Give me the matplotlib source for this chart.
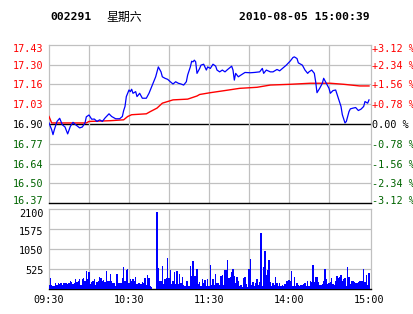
import numpy as np
import matplotlib
matplotlib.use("Agg")
from matplotlib import pyplot as plt
from matplotlib.transforms import ScaledTranslation

# header
code = "002291"
weekday = "星期六"
stamp = "2010-08-05 15:00:39"
pre_close = 16.90

# minute index (0 = 09:30, 120 = 11:30/13:00, 240 = 15:00) and price
px_min = [0, 2, 3, 4, 6, 8, 10, 12, 14, 16, 18, 20, 23, 25, 27, 28, 30, 32, 34, 36,
          38, 40, 42, 45, 47, 50, 53, 55, 56, 57, 58, 60, 61, 62, 63, 65, 66, 68, 70, 73,
          75, 77, 80, 82, 84, 85, 87, 89, 91, 93, 95, 97, 99, 101, 103, 104, 106, 107, 108, 109,
          110, 111, 113, 114, 116, 118, 119, 121, 123, 125, 126, 128, 130, 132, 134, 137, 138, 139, 140, 142,
          144, 147, 151, 154, 158, 160, 161, 163, 166, 168, 171, 173, 176, 178, 181, 183, 184, 186, 187, 190,
          192, 194, 195, 197, 199, 200, 201, 203, 205, 206, 208, 210, 211, 213, 215, 217, 219, 220, 222, 223,
          225, 226, 228, 230, 232, 234, 236, 237, 239, 240]
price = [16.907, 16.862, 16.829, 16.862, 16.917, 16.938, 16.895, 16.880, 16.834, 16.884,
         16.911, 16.895, 16.874, 16.880, 16.907, 16.948, 16.960, 16.932, 16.933, 16.917,
         16.928, 16.917, 16.940, 16.968, 16.950, 16.935, 16.935, 16.950, 16.990, 17.017,
         17.083, 17.127, 17.116, 17.132, 17.105, 17.116, 17.083, 17.105, 17.072, 17.072,
         17.105, 17.149, 17.215, 17.281, 17.248, 17.215, 17.205, 17.198, 17.182, 17.167,
         17.182, 17.172, 17.167, 17.160, 17.182, 17.227, 17.281, 17.319, 17.315, 17.326,
         17.315, 17.238, 17.271, 17.293, 17.299, 17.260, 17.281, 17.271, 17.299, 17.286,
         17.260, 17.248, 17.260, 17.248, 17.264, 17.286, 17.260, 17.193, 17.238, 17.215,
         17.227, 17.244, 17.242, 17.244, 17.248, 17.271, 17.238, 17.260, 17.248, 17.248,
         17.264, 17.255, 17.278, 17.293, 17.321, 17.344, 17.348, 17.337, 17.308, 17.293,
         17.260, 17.238, 17.248, 17.260, 17.238, 17.182, 17.109, 17.138, 17.172, 17.205,
         17.172, 17.138, 17.105, 17.123, 17.127, 17.072, 17.017, 16.962, 16.907, 16.917,
         16.983, 17.001, 17.006, 17.010, 16.990, 16.999, 17.017, 17.050, 17.039, 17.061]

# average price line
avg_min = [0, 2, 28, 30, 46, 56, 59, 62, 73, 76, 81, 85, 89, 93, 104, 106, 111, 113,
           121, 131, 143, 156, 166, 181, 196, 211, 221, 233, 240]
avg_price = [16.950, 16.907, 16.907, 16.917, 16.922, 16.928, 16.950, 16.962, 16.968, 16.983,
             17.006, 17.039, 17.050, 17.061, 17.066, 17.072, 17.087, 17.097, 17.109, 17.122,
             17.138, 17.145, 17.160, 17.165, 17.172, 17.172, 17.165, 17.154, 17.154]

# volume per minute, 241 bars
volume = [106, 283, 80, 62, 62, 159, 88, 159, 124, 141, 80, 159, 159, 141, 124, 159, 212, 177, 124, 159,
          265, 177, 194, 247, 80, 265, 283, 212, 459, 247, 442, 124, 177, 212, 247, 80, 177, 212, 300, 283,
          194, 230, 177, 459, 194, 212, 389, 194, 159, 159, 71, 389, 141, 141, 141, 283, 565, 194, 495, 512,
          141,
          247, 212, 247, 212, 318, 124, 141, 159, 124, 177, 159, 283, 106, 353, 283, 71, 30, 0, 0, 0,
          2032, 548, 194, 194, 601, 124, 265, 283, 813, 283, 495, 124, 212, 442, 124, 459, 124, 389, 141, 300,
          106, 71, 212, 194, 71, 601, 336, 724, 336, 336, 512, 124, 177, 71, 265, 159, 230, 71, 265, 71,
          618, 88, 247, 88, 389, 141, 141, 88, 336, 353, 88, 495, 495, 760, 283, 318, 442, 512, 336, 159,
          300, 194, 71, 88, 53, 283, 318, 124, 53, 512, 777, 88, 177, 71, 159, 247, 88, 177, 1466, 71,
          565, 989, 353, 495, 760, 177, 71, 141, 88, 300, 159, 71, 141, 71, 106, 71, 124, 212, 212, 230,
          212, 459, 62, 300, 71, 141, 106, 71, 88, 88, 124, 141, 71, 194, 71, 212, 177, 618, 177, 300,
          300, 177, 106, 106, 124, 194, 512, 247, 124, 141, 177, 283, 124, 106, 212, 336, 283, 318, 353, 212,
          247, 283, 71, 565, 318, 124, 194, 212, 177, 141, 159, 177, 194, 212, 194, 512, 177, 353, 106, 424]

left_labels = ["17.43", "17.30", "17.16", "17.03", "16.90", "16.77", "16.64", "16.50", "16.37"]
right_labels = ["+3.12 %", "+2.34 %", "+1.56 %", "+0.78 %", "0.00 %",
                "-0.78 %", "-1.56 %", "-2.34 %", "-3.12 %"]
vol_ticks = [525, 1050, 1575, 2100]
time_ticks = [0, 60, 120, 180, 240]
time_labels = ["09:30", "10:30", "11:30", "14:00", "15:00"]

RED = "#ff0000"
GREEN = "#006400"
GRID = "#c0c0c0"
MONO = "DejaVu Sans Mono"

steps = np.arange(4, -5, -1)
levels = pre_close * (1 + steps * 0.0078)
lab_col = [RED if s > 0 else ("black" if s == 0 else GREEN) for s in steps]

fig = plt.figure(figsize=(4.14, 3.14), dpi=100)
fig.patch.set_facecolor("white")

ax = fig.add_axes([49 / 414, 111 / 314, 322 / 414, 158 / 314])
vx = fig.add_axes([49 / 414, 25.5 / 314, 322 / 414, 79.2 / 314])


def nudge(label, dy_px):
    label.set_transform(label.get_transform() + ScaledTranslation(0, dy_px / 100, fig.dpi_scale_trans))


xmax = 241.5
ax.set_xlim(0, xmax)
ax.set_ylim(levels[-1], levels[0])
for lv, s in zip(levels[1:-1], steps[1:-1]):
    ax.axhline(lv, color="black" if s == 0 else GRID, lw=1.0 if s == 0 else 0.9, zorder=1)
for t in range(30, 240, 30):
    ax.axvline(t, color=GRID, lw=0.9, zorder=1)

ax.plot(avg_min, avg_price, color=RED, lw=1.0, zorder=3)
ax.plot(px_min, price, color="#0000ff", lw=0.9, zorder=4)

for sp in ["top", "left", "right"]:
    ax.spines[sp].set_color(GRID)
    ax.spines[sp].set_linewidth(0.9)
ax.spines["bottom"].set_color("black")
ax.spines["bottom"].set_linewidth(1.0)
ax.set_xticks([])
ax.set_yticks(levels)
ax.set_yticklabels(left_labels, fontfamily=MONO, fontsize=7.3)
ax.tick_params(axis="y", length=0, pad=4)
for lab, c in zip(ax.get_yticklabels(), lab_col):
    lab.set_color(c)

ax2 = ax.twinx()
ax2.set_ylim(levels[-1], levels[0])
ax2.set_yticks(levels)
ax2.set_yticklabels(right_labels, fontfamily=MONO, fontsize=7.3)
ax2.tick_params(axis="y", length=0, pad=0.5)
for lab, c in zip(ax2.get_yticklabels(), lab_col):
    lab.set_color(c)
for sp in ax2.spines.values():
    sp.set_visible(False)

# end labels sit inside the frame
for a in (ax, ax2):
    labs = a.get_yticklabels()
    nudge(labs[0], -2.5)
    nudge(labs[-1], 3)

# volume panel
vx.set_xlim(0, xmax)
vx.set_ylim(0, 2100)
for v in vol_ticks[:-1]:
    vx.axhline(v, color=GRID, lw=0.9, zorder=1)
for t in range(30, 240, 30):
    vx.axvline(t, color=GRID, lw=0.9, zorder=1)
vx.bar(np.arange(len(volume)), volume, width=0.8, color="#0000ff", zorder=3, linewidth=0)
for sp in ["top", "left", "right"]:
    vx.spines[sp].set_color(GRID)
    vx.spines[sp].set_linewidth(0.9)
vx.spines["bottom"].set_color("black")
vx.spines["bottom"].set_linewidth(1.0)
vx.set_yticks(vol_ticks)
vx.set_yticklabels([str(v) for v in vol_ticks], fontfamily=MONO, fontsize=7.3)
vx.set_xticks(time_ticks)
vx.set_xticklabels(time_labels, fontfamily=MONO, fontsize=7.3)
vx.tick_params(length=0)
vx.tick_params(axis="y", pad=4)
vx.tick_params(axis="x", pad=5)
vlabs = vx.get_yticklabels()
for lab in vlabs[:-1]:
    nudge(lab, -1.5)
nudge(vlabs[-1], -4)

# header
yh = 1 - 17 / 314
fig.text(50 / 414, yh, code, fontfamily=MONO, fontweight="bold", fontsize=8.2, va="center", ha="left")
fig.text(106 / 414, yh, weekday, fontfamily=["Noto Sans CJK SC", "DejaVu Sans"], fontsize=8.6,
         va="center", ha="left")
fig.text(369.5 / 414, yh, stamp, fontfamily=MONO, fontweight="bold", fontsize=8.2, va="center", ha="right")

fig.savefig("out.png", dpi=100)
